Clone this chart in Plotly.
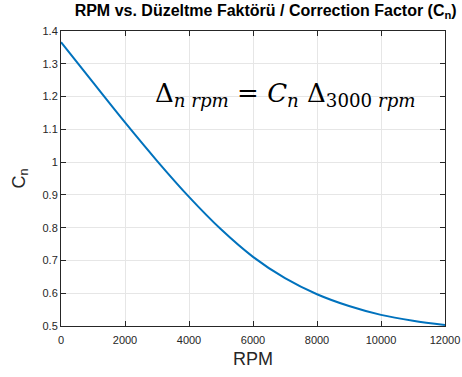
import plotly.graph_objects as go

rpm = [0, 1000, 2000, 3000, 4000, 5000, 6000, 7000, 8000, 9000, 10000, 11000, 12000]
cn = [1.366, 1.243, 1.121, 1.004, 0.894, 0.795, 0.711, 0.646, 0.597, 0.561, 0.534, 0.516, 0.503]
x_ticks = [0, 2000, 4000, 6000, 8000, 10000, 12000]
x_tick_text = ["0", "2000", "4000", "6000", "8000", "10000", "12000"]
y_ticks = [0.5, 0.6, 0.7, 0.8, 0.9, 1.0, 1.1, 1.2, 1.3, 1.4]
y_tick_text = ["0.5", "0.6", "0.7", "0.8", "0.9", "1", "1.1", "1.2", "1.3", "1.4"]

fig = go.Figure()
fig.add_trace(go.Scatter(x=rpm, y=cn, mode="lines",
                         line=dict(color="#0072BD", width=2, shape="spline", smoothing=1.0),
                         showlegend=False, hoverinfo="skip"))

axis_common = dict(
    showline=True, linecolor="#262626", linewidth=1, mirror="ticks",
    ticks="inside", ticklen=5, tickcolor="#262626",
    showgrid=True, gridcolor="#e6e6e6", gridwidth=1, zeroline=False,
    automargin=False,
    tickfont=dict(family="Liberation Sans, Arial", size=11, color="#262626"),
)

fig.update_xaxes(range=[0, 12000], tickvals=x_ticks, ticktext=x_tick_text,
                 ticklabelstandoff=4,
                 title=dict(text="RPM", font=dict(family="Liberation Sans, Arial", size=18, color="#262626"), standoff=7),
                 **axis_common)
fig.update_yaxes(range=[0.5, 1.4], tickvals=y_ticks, ticktext=y_tick_text,
                 title=dict(text="C<sub>n</sub>", font=dict(family="Liberation Sans, Arial", size=18, color="#262626"), standoff=12),
                 **axis_common)

fig.add_annotation(
    x=7000, y=1.205, xref="x", yref="y", showarrow=False,
    text="Δ<sub><i>n rpm</i></sub> = <i>C<sub>n</sub></i> Δ<sub>3000 <i>rpm</i></sub>",
    font=dict(family="DejaVu Serif, Liberation Serif, serif", size=26, color="#000000"),
)

fig.update_layout(
    width=462, height=377,
    margin=dict(l=61, r=17, t=31, b=51),
    paper_bgcolor="white", plot_bgcolor="white",
    title=dict(text="<b>RPM vs. Düzeltme Faktörü / Correction Factor (C<sub>n</sub>)</b>",
               x=0.575, xanchor="center", y=0.988, yanchor="top",
               font=dict(family="Liberation Sans, Arial", size=16, color="#000000")),
)

fig.write_html("out.html", config={"displayModeBar": False},
               post_script="document.body.style.margin='0';document.body.style.overflow='hidden';")
